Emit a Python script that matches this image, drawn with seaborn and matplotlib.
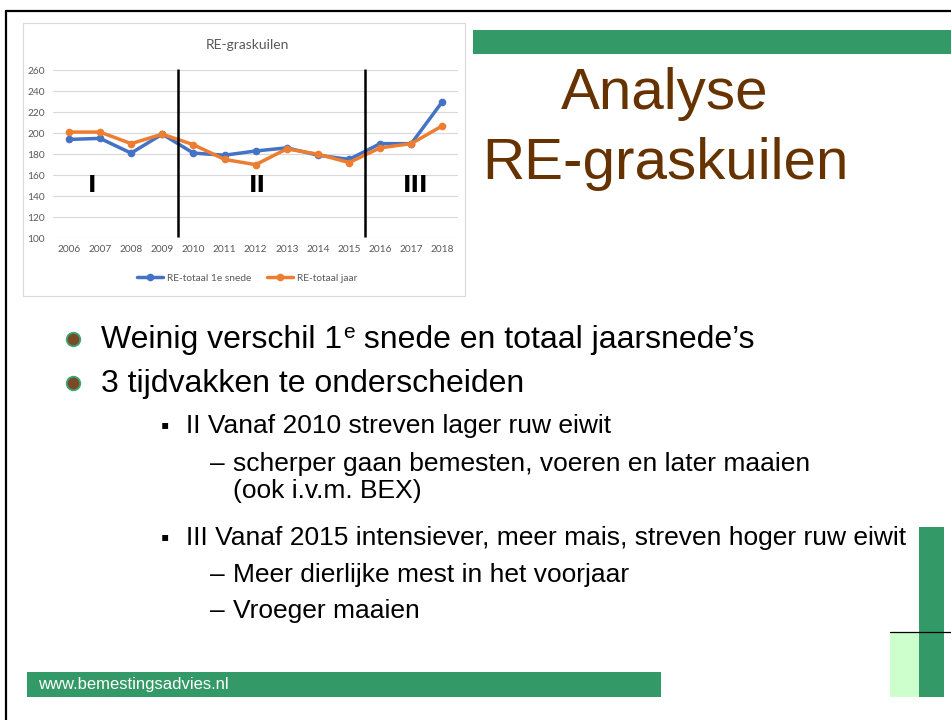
import matplotlib
matplotlib.use("Agg")
import matplotlib.pyplot as plt
from matplotlib.patches import Rectangle
import seaborn as sns

# data
years = [2006, 2007, 2008, 2009, 2010, 2011, 2012, 2013, 2014, 2015, 2016, 2017, 2018]
re_1e_snede = [194, 195, 181, 199, 181, 179, 183, 186, 179, 175, 190, 190, 230]
re_jaar = [201, 201, 190, 199, 189, 175, 170, 185, 180, 172, 186, 190, 207]
yticks = [100, 120, 140, 160, 180, 200, 220, 240, 260]
period_bounds = [2009.5, 2015.5]
period_labels = ["I", "II", "III"]
period_x = [2006.75, 2012.05, 2017.15]
period_y = [150, 150, 150]

series_names = ["RE-totaal 1e snede", "RE-totaal jaar"]
chart_title = "RE-graskuilen"
slide_title = ["Analyse", "RE-graskuilen"]
# (text before superscript, superscript, text after)
bullets = [("Weinig verschil 1", "e", " snede en totaal jaarsnede\u2019s"),
           ("3 tijdvakken te onderscheiden", "", "")]
sub_lines = [
    (1, "II Vanaf 2010 streven lager ruw eiwit"),
    (2, "scherper gaan bemesten, voeren en later maaien"),
    (3, "(ook i.v.m. BEX)"),
    (1, "III Vanaf 2015 intensiever, meer mais, streven hoger ruw eiwit"),
    (2, "Meer dierlijke mest in het voorjaar"),
    (2, "Vroeger maaien"),
]
footer = "www.bemestingsadvies.nl"

sns.set_style("white")
plt.rcParams["font.family"] = ["Liberation Sans", "DejaVu Sans"]
plt.rcParams["text.color"] = "black"

W, H = 951, 720
green = "#339966"
blue = "#4472C4"
orange = "#ED7D31"

fig = plt.figure(figsize=(W / 100, H / 100), dpi=100)

# slide background in pixel coords
bg = fig.add_axes([0, 0, 1, 1])
bg.set_xlim(0, W)
bg.set_ylim(H, 0)
bg.axis("off")

bg.plot([6, 6], [11, H], color="black", lw=1.6)
bg.plot([6, W], [11, 11], color="black", lw=1.6)
bg.add_patch(Rectangle((23, 23), 442, 273, fc="white", ec="#d9d9d9", lw=0.8))
bg.add_patch(Rectangle((473, 30), W - 473, 24, fc=green, ec="none"))
bg.text(665, 109, slide_title[0], ha="center", va="baseline", fontsize=42, color="#663300")
bg.text(665, 179, slide_title[1], ha="center", va="baseline", fontsize=42, color="#663300")

renderer = fig.canvas.get_renderer()
inv = bg.transData.inverted()


def text_end(t):
    bb = t.get_window_extent(renderer)
    return inv.transform((bb.x1, bb.y0))[0]


# bullets
main_base = [348, 392]
for yb, (pre, sup, post) in zip(main_base, bullets):
    bg.scatter([73], [yb - 9], s=95, c="#7a4a26", edgecolors="#3fa476", linewidths=1.3, zorder=3)
    t = bg.text(101, yb, pre, fontsize=23, va="baseline", color="black")
    if sup:
        x = text_end(t)
        t2 = bg.text(x + 1, yb - 10, sup, fontsize=15, va="baseline", color="black")
        x = text_end(t2)
        bg.text(x, yb, post, fontsize=23, va="baseline", color="black")

sub_base = [433, 471, 498, 545, 582, 618]
for yb, (lvl, txt) in zip(sub_base, sub_lines):
    if lvl == 1:
        bg.text(161, yb - 1, "\u25aa", fontsize=17, va="baseline", color="black")
        bg.text(186, yb, txt, fontsize=19, va="baseline", color="black")
    elif lvl == 2:
        bg.text(210, yb, "\u2013", fontsize=19, va="baseline", color="black")
        bg.text(233, yb, txt, fontsize=19, va="baseline", color="black")
    else:
        bg.text(233, yb, txt, fontsize=19, va="baseline", color="black")

# footer and right decorations
bg.add_patch(Rectangle((27, 672), 634, 25, fc=green, ec="none"))
bg.text(38, 685, footer, fontsize=12, color="white", va="center")
bg.add_patch(Rectangle((919, 527), 25, 170, fc=green, ec="none"))
bg.add_patch(Rectangle((890, 632), 29, 65, fc="#ccffcc", ec="none"))
bg.plot([890, W], [632, 632], color="black", lw=0.9)

# chart
ax = fig.add_axes([53.3 / W, 1 - 238.3 / H, (458 - 53.3) / W, (238.3 - 70) / H])
sns.lineplot(x=years, y=re_1e_snede, ax=ax, color=blue, marker="o", markersize=5.5,
             markeredgewidth=0, linewidth=2.5, label=series_names[0])
sns.lineplot(x=years, y=re_jaar, ax=ax, color=orange, marker="o", markersize=5.5,
             markeredgewidth=0, linewidth=2.5, label=series_names[1])
ax.set_xlim(2005.5, 2018.5)
ax.set_ylim(100, 260)
ax.set_xticks(years)
ax.set_yticks(yticks)
ax.grid(axis="y", color="#d9d9d9", lw=0.8)
ax.set_axisbelow(True)
for sp in ax.spines.values():
    sp.set_visible(False)
ax.tick_params(length=0, labelsize=7.3, colors="#595959")
ax.tick_params(axis="y", pad=6)
ax.tick_params(axis="x", pad=5)
for lab in ax.get_xticklabels() + ax.get_yticklabels():
    lab.set_family("Lato")

ax.vlines(period_bounds, 101.5, 260.5, colors="black", lw=1.8, clip_on=False)
for x, y, lab in zip(period_x, period_y, period_labels):
    ax.text(x, y, lab, ha="center", va="center", fontsize=16.5, fontweight="bold",
            family="DejaVu Sans", color="black")

handles, labels = ax.get_legend_handles_labels()
ax.get_legend().remove()
fig.legend(handles, labels, loc="center", bbox_to_anchor=(247 / W, 1 - 278 / H), ncol=2,
           frameon=False, prop={"family": "Lato", "size": 7.3}, labelcolor="#595959",
           handlelength=2.6, columnspacing=1.6, handletextpad=0.3)
fig.text(247 / W, 1 - 45 / H, chart_title, ha="center", va="center", fontsize=10,
         color="#595959", family="Lato")

fig.savefig("out.png", dpi=100)
